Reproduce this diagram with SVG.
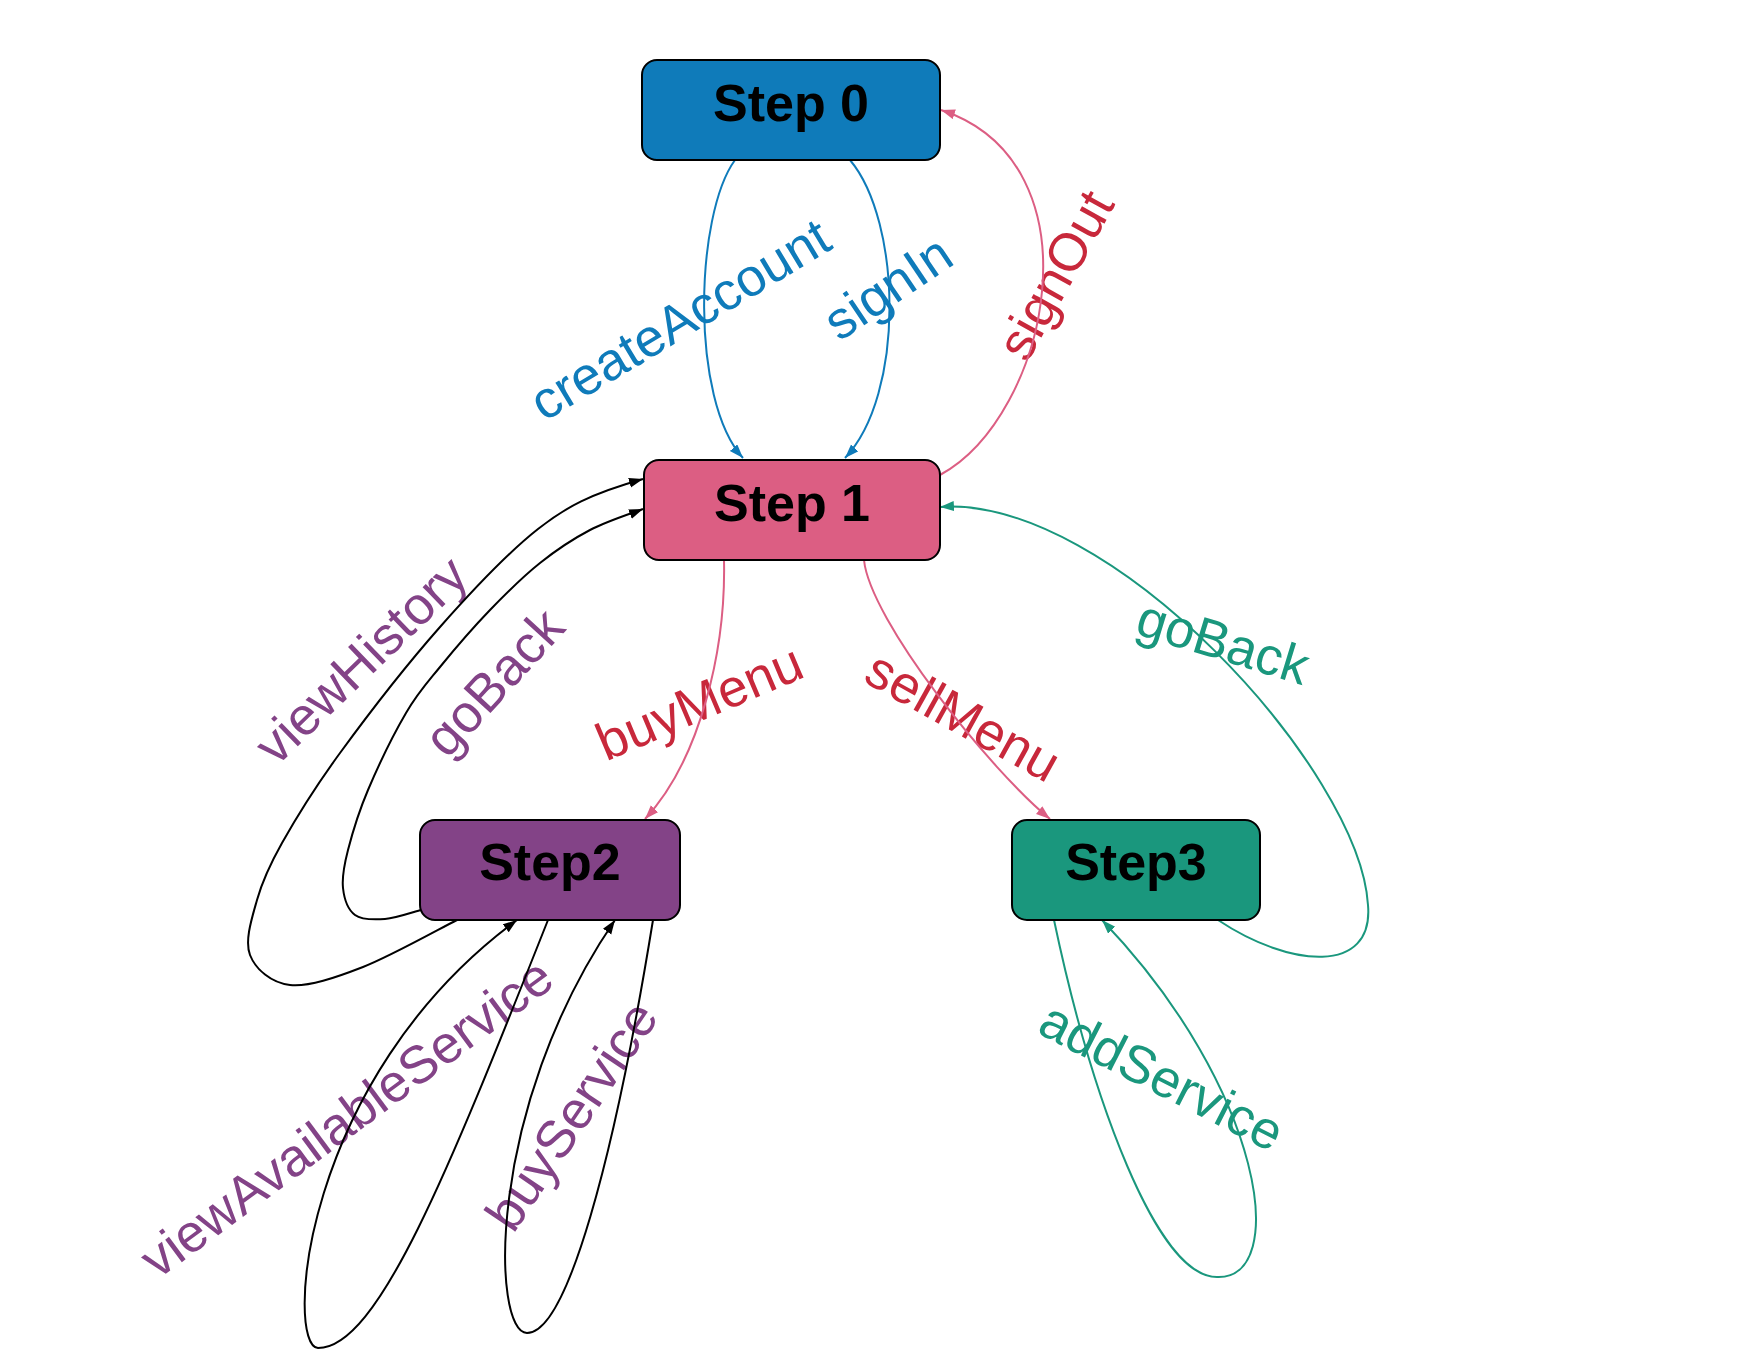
<svg xmlns="http://www.w3.org/2000/svg" width="1760" height="1360" viewBox="0 0 1760 1360">
  <defs>
    <marker id="arr-blue" markerUnits="userSpaceOnUse" markerWidth="16" markerHeight="12" refX="14" refY="5" orient="auto"><path d="M0,0 L14,5 L0,10 Z" fill="#0F7BBA"/></marker>
    <marker id="arr-pink" markerUnits="userSpaceOnUse" markerWidth="16" markerHeight="12" refX="14" refY="5" orient="auto"><path d="M0,0 L14,5 L0,10 Z" fill="#DC5E83"/></marker>
    <marker id="arr-black" markerUnits="userSpaceOnUse" markerWidth="16" markerHeight="12" refX="14" refY="5" orient="auto"><path d="M0,0 L14,5 L0,10 Z" fill="#000"/></marker>
    <marker id="arr-teal" markerUnits="userSpaceOnUse" markerWidth="16" markerHeight="12" refX="14" refY="5" orient="auto"><path d="M0,0 L14,5 L0,10 Z" fill="#1A977D"/></marker>
  </defs>
  <style>
    .node rect { stroke: #000; stroke-width: 2; }
    .node text { font-family: "Liberation Sans", Arial, sans-serif; font-weight: bold; font-size: 52px; text-anchor: middle; fill: #000; }
    .edge { fill: none; stroke-width: 2; }
    .blue { stroke: #0F7BBA; marker-end: url(#arr-blue); }
    .pink { stroke: #DC5E83; marker-end: url(#arr-pink); }
    .black { stroke: #000; marker-end: url(#arr-black); }
    .teal { stroke: #1A977D; marker-end: url(#arr-teal); }
    .lbl { font-family: "Liberation Sans", Arial, sans-serif; font-size: 53px; text-anchor: middle; }
    .t-blue { fill: #0F7BBA; }
    .t-red { fill: #C8283B; }
    .t-purple { fill: #834387; }
    .t-teal { fill: #1A977D; }
  </style>
  <rect width="1760" height="1360" fill="#fff"/>

  <!-- transition labels -->
  <g id="edge-labels">
    <text class="lbl t-blue" transform="translate(682,323) rotate(-31)" y="14">createAccount</text>
    <text class="lbl t-blue" transform="translate(890,291) rotate(-34)" y="14">signIn</text>
    <text class="lbl t-red" transform="translate(1059,277) rotate(-61)" y="14">signOut</text>
    <text class="lbl t-purple" transform="translate(364,663) rotate(-44)" y="14">viewHistory</text>
    <text class="lbl t-purple" transform="translate(497,685) rotate(-47.5)" y="14">goBack</text>
    <text class="lbl t-red" transform="translate(701,706) rotate(-23)" y="14">buyMenu</text>
    <text class="lbl t-red" transform="translate(961,720) rotate(29)" y="14">sellMenu</text>
    <text class="lbl t-teal" transform="translate(1222,646) rotate(17)" y="14">goBack</text>
    <text class="lbl t-purple" transform="translate(349,1121) rotate(-36.5)" y="14">viewAvailableService</text>
    <text class="lbl t-purple" transform="translate(575,1118) rotate(-56)" y="14">buyService</text>
    <text class="lbl t-teal" transform="translate(1160,1080) rotate(27)" y="14">addService</text>
  </g>

  <!-- transitions -->
  <g id="connectors">
    <path id="e-createAccount" class="edge blue" d="M735,160 C695,215 690,400 743,458"/>
    <path id="e-signIn" class="edge blue" d="M850,160 C902,222 905,395 845,458"/>
    <path id="e-signOut" class="edge pink" d="M940,475 C1049,416 1103,163 941,110"/>
    <path id="e-buyMenu" class="edge pink" d="M724,560 C726,650 700,760 645,819"/>
    <path id="e-sellMenu" class="edge pink" d="M864,560 C870,620 990,770 1050,819"/>
    <path id="e-viewHistory" class="edge black" d="M457,920 C441.3,927.8 390.8,956.2 363,967 C335.2,977.8 308.8,987 290,985 C271.2,983 255.5,969.2 250,955 C244.5,940.8 251.7,918.7 257,900 C262.3,881.3 268.2,867.5 282,843 C295.8,818.5 313.7,789 340,753 C366.3,717 406.7,664.7 440,627 C473.3,589.3 510,551 538,529 C566,507 590,494 643,479"/>
    <path id="e-goBack2" class="edge black" d="M421,910 C415,911.5 396,918.2 385,919 C374,919.8 362,920.2 355,915 C348,909.8 344.2,898.8 343,888 C341.8,877.2 343.8,866.3 348,850 C352.2,833.7 358.3,812.8 368,790 C377.7,767.2 394,733.5 406,713 C418,692.5 426,684.2 440,667 C454,649.8 473.3,627.3 490,610 C506.7,592.7 523.3,576.3 540,563 C556.7,549.7 572.8,539 590,530 C607.2,521 634.2,512.5 643,509"/>
    <path id="e-viewAvailableService" class="edge black" d="M548,920 C448,1172 378,1348 318,1348 C285,1346 300,1080 517,920"/>
    <path id="e-buyService" class="edge black" d="M653,920 C614,1160 567,1333 527,1333 C492,1333 485,1110 615,920"/>
    <path id="e-goBack3" class="edge teal" d="M1218,920 C1290,968 1374,975 1368,905 C1360,770 1110,495 940,507"/>
    <path id="e-addService" class="edge teal" d="M1054,920 C1092,1100 1157,1277 1217,1277 C1290,1280 1265,1090 1102,920"/>
  </g>

  <!-- states -->
  <g id="step0" class="node">
    <rect x="642" y="60" width="298" height="100" rx="15" fill="#0F7BBA"/>
    <text x="791" y="121">Step 0</text>
  </g>
  <g id="step1" class="node">
    <rect x="644" y="460" width="296" height="100" rx="15" fill="#DC5E83"/>
    <text x="792" y="521">Step 1</text>
  </g>
  <g id="step2" class="node">
    <rect x="420" y="820" width="260" height="100" rx="15" fill="#834387"/>
    <text x="550" y="880">Step2</text>
  </g>
  <g id="step3" class="node">
    <rect x="1012" y="820" width="248" height="100" rx="15" fill="#1A977D"/>
    <text x="1136" y="880">Step3</text>
  </g>
</svg>
